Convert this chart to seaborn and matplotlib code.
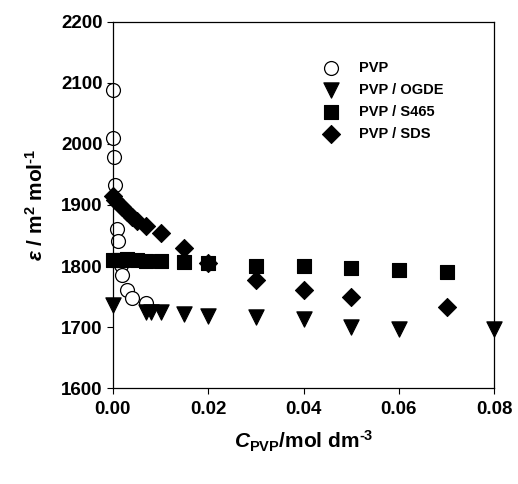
import numpy as np
import pandas as pd
import matplotlib
matplotlib.use('Agg')
import matplotlib.pyplot as plt
import seaborn as sns

# values
pvp_c = [0.0, 0.0001, 0.0003, 0.0005, 0.0008, 0.001, 0.0017, 0.002, 0.003, 0.004, 0.007]
pvp_e = [2088, 2009, 1979, 1932, 1861, 1841, 1802, 1785, 1761, 1748, 1740]

ogde_c = [0.0, 0.007, 0.008, 0.01, 0.015, 0.02, 0.03, 0.04, 0.05, 0.06, 0.08]
ogde_e = [1736, 1725, 1725, 1725, 1722, 1718, 1717, 1714, 1700, 1697, 1697]

s465_c = [0.0, 0.001, 0.002, 0.003, 0.005, 0.007, 0.01, 0.015, 0.02, 0.03, 0.04, 0.05, 0.06, 0.07]
s465_e = [1810, 1810, 1810, 1811, 1810, 1809, 1808, 1807, 1805, 1800, 1800, 1796, 1793, 1791]

sds_c = [0.0, 0.0005, 0.001, 0.002, 0.003, 0.004, 0.005, 0.007, 0.01, 0.015, 0.02, 0.03, 0.04, 0.05, 0.07]
sds_e = [1914, 1908, 1903, 1896, 1888, 1880, 1873, 1866, 1854, 1830, 1805, 1777, 1761, 1750, 1733]

sns.set_style('ticks')
plt.rcParams['font.family'] = ['Liberation Sans', 'DejaVu Sans']
plt.rcParams['font.weight'] = 'bold'
plt.rcParams['text.color'] = 'black'
plt.rcParams['axes.labelcolor'] = 'black'
plt.rcParams['mathtext.fontset'] = 'custom'
plt.rcParams['mathtext.rm'] = 'Liberation Sans:bold'
plt.rcParams['mathtext.it'] = 'Liberation Sans:italic:bold'
plt.rcParams['mathtext.bf'] = 'Liberation Sans:bold'

fig = plt.figure(figsize=(5.18, 4.84), dpi=100)
ax = fig.add_axes([0.218, 0.198, 0.736, 0.757])

sns.scatterplot(x=pvp_c, y=pvp_e, ax=ax, marker='o', s=100, facecolor='white',
                edgecolor='black', linewidth=0.9, label='PVP', zorder=2, clip_on=False)
sns.scatterplot(x=ogde_c, y=ogde_e, ax=ax, marker='v', s=120, color='black',
                edgecolor='black', label='PVP / OGDE', zorder=3, clip_on=False)
sns.scatterplot(x=s465_c, y=s465_e, ax=ax, marker='s', s=100, color='black',
                edgecolor='black', label='PVP / S465', zorder=3, clip_on=False)
sns.scatterplot(x=sds_c, y=sds_e, ax=ax, marker='D', s=85, color='black',
                edgecolor='black', label='PVP / SDS', zorder=3, clip_on=False)

ax.set_xlim(0, 0.08)
ax.set_ylim(1600, 2200)
ax.set_xticks([0.0, 0.02, 0.04, 0.06, 0.08])
ax.set_xticklabels(['0.00', '0.02', '0.04', '0.06', '0.08'])
ax.set_yticks(range(1600, 2201, 100))
ax.tick_params(axis='both', labelsize=13.5, length=4, width=0.8, direction='out',
               colors='black', labelcolor='black')
ax.tick_params(axis='x', pad=5)
for t in ax.get_xticklabels() + ax.get_yticklabels():
    t.set_fontweight('bold')
for sp in ax.spines.values():
    sp.set_visible(True)
    sp.set_linewidth(0.9)
    sp.set_color('black')

ax.set_xlabel(r'$C_{\mathrm{PVP}}$/mol dm$^{\text{-3}}$', fontsize=15, fontweight='bold', labelpad=8)
ax.set_ylabel(r'$\varepsilon$ / m$^{\mathrm{2}}$ mol$^{\text{-1}}$', fontsize=15, fontweight='bold', labelpad=10)

leg = ax.legend(loc='upper left', bbox_to_anchor=(0.50, 0.93), frameon=False,
                fontsize=10.5, handletextpad=0.9, labelspacing=0.55, markerscale=1.0)
for t in leg.get_texts():
    t.set_fontweight('bold')
    t.set_color('black')

fig.savefig('out.png', dpi=100)
